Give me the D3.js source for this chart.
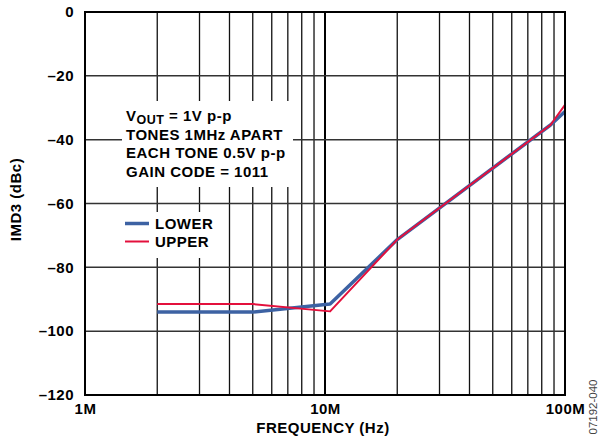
<!DOCTYPE html>
<html>
<head>
<meta charset="utf-8">
<script src="https://cdn.jsdelivr.net/npm/d3@7"></script>
<style>
  body { margin: 0; background: #fff; }
  svg { display: block; }
  text { font-family: "Liberation Sans", Arial, sans-serif; font-weight: bold; letter-spacing: 0.5px; }
</style>
</head>
<body>
<svg width="600" height="440"></svg>
<script>
// frequencies in Hz
const freqs = [2e6, 5e6, 10.5e6, 20e6, 87e6, 100e6];
const lowerVals = [-94, -94, -91.5, -71.3, -35.4, -31.2];
const upperVals = [-91.5, -91.5, -93.8, -71.3, -35.4, -29.1];
const yTicks = [0, -20, -40, -60, -80, -100, -120];
const xTicks = [1e6, 1e7, 1e8];
const xTickLabels = ["1M", "10M", "100M"];
const notes = ["TONES 1MHz APART", "EACH TONE 0.5V p-p", "GAIN CODE = 1011"];

const margin = {top: 12, right: 35, bottom: 45, left: 85};
const width = 600 - margin.left - margin.right,
      height = 440 - margin.top - margin.bottom;

const svg = d3.select("svg");
const g = svg.append("g").attr("transform", `translate(${margin.left}, ${margin.top})`);

const x = d3.scaleLog().domain([1e6, 1e8]).range([0, width]);
const y = d3.scaleLinear().domain([-120, 0]).range([height, 0]);

// minor grid (2..9 in each decade) + major at 10M
let gridX = [];
[1e6, 1e7].forEach(dec => { for (let k = 2; k <= 9; k++) gridX.push(dec * k); });
g.selectAll(".vgrid").data(gridX).enter().append("line")
  .attr("x1", d => x(d)).attr("x2", d => x(d))
  .attr("y1", 0).attr("y2", height)
  .attr("stroke", "#111").attr("stroke-width", 1.3);
g.append("line")
  .attr("x1", x(1e7)).attr("x2", x(1e7)).attr("y1", 0).attr("y2", height)
  .attr("stroke", "#000").attr("stroke-width", 2);

g.selectAll(".hgrid").data(yTicks.filter(d => d !== 0 && d !== -120)).enter().append("line")
  .attr("x1", 0).attr("x2", width)
  .attr("y1", d => y(d)).attr("y2", d => y(d))
  .attr("stroke", "#333").attr("stroke-width", 1.5);

// white boxes behind the notes and legend
g.append("rect").attr("x", 122 - margin.left).attr("y", 101 - margin.top)
  .attr("width", 171).attr("height", 86).attr("fill", "#fff");
g.append("rect").attr("x", 121 - margin.left).attr("y", 212 - margin.top)
  .attr("width", 99).attr("height", 46).attr("fill", "#fff");

// series
const line = d3.line().x(d => x(d[0])).y(d => y(d[1]));
g.append("path")
  .datum(freqs.map((f, i) => [f, lowerVals[i]]))
  .attr("d", line).attr("fill", "none")
  .attr("stroke", "#3d62a3").attr("stroke-width", 3.5).attr("stroke-linejoin", "round");
g.append("path")
  .datum(freqs.map((f, i) => [f, upperVals[i]]))
  .attr("d", line).attr("fill", "none")
  .attr("stroke", "#e3103c").attr("stroke-width", 2).attr("stroke-linejoin", "round");

// frame
g.append("rect").attr("width", width).attr("height", height)
  .attr("fill", "none").attr("stroke", "#000").attr("stroke-width", 2);

// axes
const yAxis = g.append("g")
  .call(d3.axisLeft(y).tickValues(yTicks).tickSize(0).tickPadding(11)
    .tickFormat(d => d === 0 ? "0" : "\u2013" + Math.abs(d)));
yAxis.select(".domain").remove();
yAxis.selectAll("text").attr("font-size", "15px").attr("fill", "#000")
  .style("font-family", '"Liberation Sans", Arial, sans-serif').style("font-weight", "bold");

const xAxis = g.append("g").attr("transform", `translate(0, ${height})`)
  .call(d3.axisBottom(x).tickValues(xTicks).tickSize(0).tickPadding(8)
    .tickFormat((d, i) => xTickLabels[i]));
xAxis.select(".domain").remove();
xAxis.selectAll("text").attr("font-size", "15px").attr("fill", "#000")
  .style("font-family", '"Liberation Sans", Arial, sans-serif').style("font-weight", "bold");

// axis titles
g.append("text")
  .attr("x", width / 2 - 2).attr("y", height + 38)
  .attr("font-size", "15px").attr("text-anchor", "middle")
  .text("FREQUENCY (Hz)");
g.append("text")
  .attr("transform", "rotate(-90)")
  .attr("x", -(height / 2) + 4).attr("y", -margin.left + 21)
  .attr("font-size", "15px").attr("text-anchor", "middle")
  .text("IMD3 (dBc)");

// notes
const noteX = 126 - margin.left;
const vout = g.append("text").attr("x", noteX).attr("y", 121 - margin.top).attr("font-size", "15px");
vout.append("tspan").text("V");
vout.append("tspan").attr("font-size", "12.5px").attr("dy", 3).text("OUT");
vout.append("tspan").attr("dy", -3).text(" = 1V p-p");
g.selectAll(".note").data(notes).enter().append("text")
  .attr("x", noteX).attr("y", (d, i) => 139.5 - margin.top + i * 18.5)
  .attr("font-size", "15px").text(d => d);

// legend
const legend = [["LOWER", "#3d62a3", 3.5], ["UPPER", "#e3103c", 2]];
legend.forEach((l, i) => {
  const ly = 223.5 - margin.top + i * 18;
  g.append("line").attr("x1", 125 - margin.left).attr("x2", 149 - margin.left)
    .attr("y1", ly).attr("y2", ly).attr("stroke", l[1]).attr("stroke-width", l[2]);
  g.append("text").attr("x", 155 - margin.left).attr("y", ly + 5.5)
    .attr("font-size", "15px").text(l[0]);
});

// figure code
svg.append("text")
  .attr("transform", "rotate(-90)")
  .attr("x", -407).attr("y", 597)
  .attr("font-size", "11.5px").attr("text-anchor", "middle")
  .style("font-weight", "normal").style("letter-spacing", "0px").attr("fill", "#444")
  .text("07192-040");
</script>
</body>
</html>
